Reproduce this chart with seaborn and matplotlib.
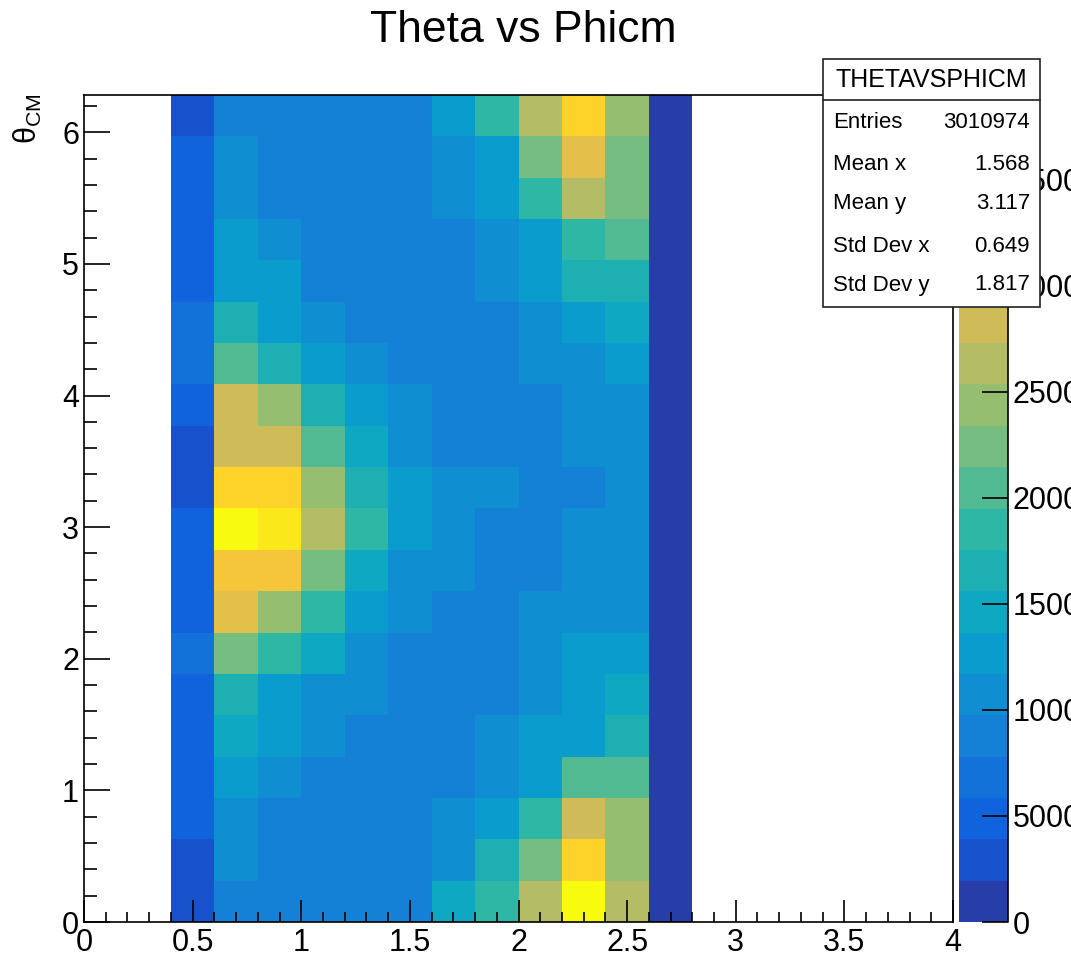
import numpy as np
import seaborn as sns
import matplotlib.pyplot as plt
from matplotlib.colors import LinearSegmentedColormap, ListedColormap
from matplotlib.patches import Rectangle
from matplotlib.lines import Line2D

# histogram binning (phi on x, theta on y)
phi_edges = np.linspace(0, 4, 21)
theta_edges = np.linspace(0, 2 * np.pi, 21)
phi_first_bin = 2          # first filled phi bin (phi = 0.4)

# bin contents, rows = theta bins from bottom (0) to top (2*pi),
# columns = phi bins 0.4-0.6 ... 2.6-2.8
counts = [
    [2900, 8800, 8800, 8800, 8800, 8800, 14600, 18500, 26300, 38000, 26300, 1000],
    [2900, 10700, 8800, 8800, 8800, 8800, 10700, 16600, 22400, 34100, 24400, 1000],
    [4900, 10700, 8800, 8800, 8800, 8800, 10700, 12700, 18500, 28300, 24400, 1000],
    [4900, 12700, 10700, 8800, 8800, 8800, 8800, 10700, 12700, 20500, 20500, 1000],
    [4900, 14600, 12700, 10700, 8800, 8800, 8800, 10700, 12700, 12700, 16600, 1000],
    [4900, 16600, 12700, 10700, 10700, 8800, 8800, 8800, 10700, 12700, 14600, 1000],
    [6800, 22400, 18500, 14600, 10700, 8800, 8800, 8800, 10700, 12700, 12700, 1000],
    [4900, 30200, 24400, 18500, 12700, 10700, 8800, 8800, 10700, 10700, 10700, 1000],
    [4900, 32200, 32200, 22400, 14600, 10700, 10700, 8800, 8800, 10700, 10700, 1000],
    [4900, 38000, 36100, 26300, 18500, 12700, 10700, 8800, 8800, 10700, 10700, 1000],
    [2900, 34100, 34100, 24400, 16600, 12700, 10700, 10700, 8800, 8800, 10700, 1000],
    [2900, 28300, 28300, 20500, 14600, 10700, 8800, 8800, 8800, 10700, 10700, 1000],
    [4900, 28300, 24400, 16600, 12700, 10700, 8800, 8800, 8800, 10700, 10700, 1000],
    [6800, 20500, 16600, 12700, 10700, 8800, 8800, 8800, 10700, 10700, 12700, 1000],
    [6800, 16600, 12700, 10700, 8800, 8800, 8800, 8800, 10700, 12700, 14600, 1000],
    [4900, 12700, 12700, 8800, 8800, 8800, 8800, 10700, 12700, 16600, 16600, 1000],
    [4900, 12700, 10700, 8800, 8800, 8800, 8800, 10700, 12700, 18500, 20500, 1000],
    [4900, 10700, 8800, 8800, 8800, 8800, 10700, 12700, 18500, 26300, 22400, 1000],
    [4900, 10700, 8800, 8800, 8800, 8800, 10700, 12700, 22400, 30200, 22400, 1000],
    [2900, 8800, 8800, 8800, 8800, 8800, 12700, 18500, 26300, 34100, 24400, 1000],
]
z_max = 39000

x_ticks = [0, 0.5, 1, 1.5, 2, 2.5, 3, 3.5, 4]
x_ticklabels = ["0", "0.5", "1", "1.5", "2", "2.5", "3", "3.5", "4"]
y_ticks = [0, 1, 2, 3, 4, 5, 6]
z_ticks = [0, 5000, 10000, 15000, 20000, 25000, 30000, 35000]

stats_title = "THETAVSPHICM"
stats_names = ["Entries", "Mean x", "Mean y", "Std Dev x", "Std Dev y"]
stats_values = ["3010974", "1.568", "3.117", "0.649", "1.817"]

sns.set_style("white")
plt.rcParams["font.family"] = ["Liberation Sans", "DejaVu Sans"]
plt.rcParams["mathtext.fontset"] = "custom"
plt.rcParams["mathtext.rm"] = "Liberation Sans"
plt.rcParams["text.color"] = "black"
plt.rcParams["axes.axisbelow"] = False

# ROOT kBird palette, 20 contour levels
bird = LinearSegmentedColormap.from_list("bird", list(zip(
    [0.0, 0.125, 0.25, 0.375, 0.5, 0.625, 0.75, 0.875, 1.0],
    [(0.2082, 0.1664, 0.5293), (0.0592, 0.3599, 0.8684), (0.0780, 0.5041, 0.8385),
     (0.0232, 0.6419, 0.7914), (0.1802, 0.7178, 0.6425), (0.5301, 0.7492, 0.4662),
     (0.8186, 0.7328, 0.3499), (0.9956, 0.7862, 0.1968), (0.9764, 0.9832, 0.0539)])))
n_levels = 20
cmap = ListedColormap([bird((i + 0.99) / n_levels) for i in range(n_levels)])

grid = np.full((len(theta_edges) - 1, len(phi_edges) - 1), np.nan)
data = np.array(counts, dtype=float)
grid[:, phi_first_bin:phi_first_bin + data.shape[1]] = data

W, H = 1071, 963
fig = plt.figure(figsize=(W / 100, H / 100), dpi=100)
ax = fig.add_axes([84 / W, 1 - 922 / H, (953 - 84) / W, (922 - 95) / H])
cax = fig.add_axes([959 / W, 1 - 922 / H, (1008 - 959) / W, (922 - 95) / H])

sns.heatmap(grid, ax=ax, cmap=cmap, vmin=0, vmax=z_max, cbar_ax=cax,
            xticklabels=False, yticklabels=False)
ax.set_axisbelow(False)

dphi = phi_edges[1] - phi_edges[0]
dtheta = theta_edges[1] - theta_edges[0]
ax.set_xlim(0, len(phi_edges) - 1)
ax.set_ylim(0, len(theta_edges) - 1)
ax.set_xticks([v / dphi for v in x_ticks])
ax.set_xticklabels(x_ticklabels)
ax.set_xticks([v / dphi for v in np.arange(0, 4.001, 0.1)], minor=True)
ax.set_yticks([v / dtheta for v in y_ticks])
ax.set_yticklabels([str(v) for v in y_ticks])
ax.set_yticks([v / dtheta for v in np.arange(0, 6.3, 0.2)], minor=True)
ax.tick_params(axis="both", which="both", direction="in", labelsize=22,
               width=1.2, color="black", labelcolor="black",
               bottom=True, left=True, top=False, right=False)
ax.tick_params(axis="x", which="major", length=16, pad=4)
ax.tick_params(axis="x", which="minor", length=7.5)
ax.tick_params(axis="y", which="major", length=18.7, pad=3.6, labelrotation=0)
ax.tick_params(axis="y", which="minor", length=9.4)
for s in ax.spines.values():
    s.set_visible(True)
    s.set_color("black")
    s.set_linewidth(1.2)

cbar = ax.collections[0].colorbar
cbar.set_ticks(z_ticks)
cbar.set_ticklabels([str(v) for v in z_ticks])
cbar.minorticks_off()
cbar.outline.set_visible(False)
cbar.ax.set_axisbelow(False)
cbar.ax.tick_params(direction="in", length=18.7, width=1.2, labelsize=22,
                    pad=3.6, color="black", labelcolor="black",
                    right=True, left=False)
cbar.ax.axvline(1, color="black", lw=1.2, clip_on=False)

fig.text(523 / W, 1 - 42 / H, "Theta vs Phicm", ha="center", va="baseline",
         fontsize=32, color="black")
fig.text(28 / W, 1 - 93 / H, r"θ$_{\mathrm{CM}}$", rotation=90, ha="center",
         va="top", fontsize=22, color="black")

# stats box
bx0, bx1, by0, by1, bsep = 823, 1040, 59, 307, 100
fig.add_artist(Rectangle((bx0 / W, 1 - by1 / H), (bx1 - bx0) / W, (by1 - by0) / H,
                         transform=fig.transFigure, facecolor="white",
                         edgecolor="#222222", lw=1.2, zorder=10))
fig.add_artist(Line2D([bx0 / W, bx1 / W], [1 - bsep / H, 1 - bsep / H],
                      transform=fig.transFigure, color="#222222", lw=1.2, zorder=11))
fig.text((bx0 + bx1) / 2 / W, 1 - 80 / H, stats_title, ha="center", va="center",
         fontsize=18, zorder=12, color="black")
row_y = [122, 165, 203, 247, 285]
for name, val, yy in zip(stats_names, stats_values, row_y):
    fig.text(833 / W, 1 - yy / H, name, ha="left", va="center", fontsize=16,
             zorder=12, color="black")
    fig.text(1030 / W, 1 - yy / H, val, ha="right", va="center", fontsize=16,
             zorder=12, color="black")

fig.savefig("out.png", dpi=100)
